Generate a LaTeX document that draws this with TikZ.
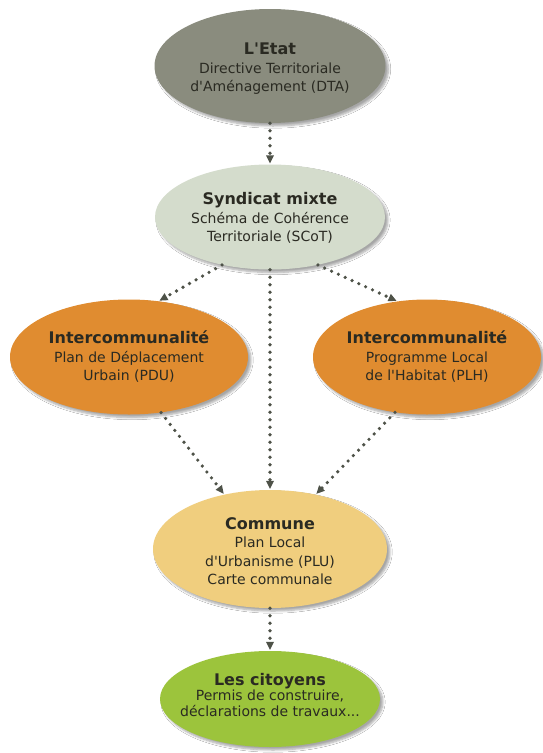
\documentclass[tikz,border=0pt]{standalone}
\usepackage{fontspec}
\setmainfont{DejaVu Sans}
\usetikzlibrary{shapes.geometric,arrows.meta,shadows.blur}
\definecolor{etatc}{HTML}{8A8C7E}
\definecolor{syndc}{HTML}{D4DCCC}
\definecolor{interc}{HTML}{E08C30}
\definecolor{communec}{HTML}{F0CE7E}
\definecolor{citc}{HTML}{9CC43C}
\definecolor{arrc}{HTML}{4E5248}
\definecolor{txtc}{HTML}{2A2A22}
\newcommand{\q}{\textquotesingle}
\newcommand{\ttlfont}{\bfseries\fontsize{16}{19}\selectfont}
\tikzset{
  bubble/.style={ellipse, inner sep=0pt,
    blur shadow={shadow xshift=3pt, shadow yshift=-3pt, shadow blur steps=6, shadow opacity=35}},
  label/.style={align=center, text=txtc, inner sep=0pt, font=\fontsize{14}{18.5}\selectfont},
  flow/.style={draw=arrc, line width=3.6pt, line cap=round, dash pattern=on 0pt off 7.5pt,
    -{Triangle[length=8pt,width=8pt,line width=0pt]}, shorten >=1pt}
}
\begin{document}
\begin{tikzpicture}[x=1pt,y=-1pt]
\useasboundingbox[fill=white] (0,0) rectangle (542,753);
\node[bubble, fill=etatc, minimum width=231pt, minimum height=114pt] (etat) at (270,66) {};
\node[label] (etat-t) at (270,69)
  {{\ttlfont L\q Etat}\\Directive Territoriale\\d\q Aménagement (DTA)};
\node[bubble, fill=syndc, minimum width=230pt, minimum height=105pt] (synd) at (270,217) {};
\node[label] (synd-t) at (270,218)
  {{\ttlfont Syndicat mixte}\\Schéma de Cohérence\\Territoriale (SCoT)};
\node[bubble, fill=interc, minimum width=238pt, minimum height=115pt] (pdu) at (129,357) {};
\node[label] (pdu-t) at (129,357)
  {{\ttlfont Intercommunalité}\\Plan de Déplacement\\Urbain (PDU)};
\node[bubble, fill=interc, minimum width=228pt, minimum height=115pt] (plh) at (427,357) {};
\node[label] (plh-t) at (427,357)
  {{\ttlfont Intercommunalité}\\Programme Local\\de l\q Habitat (PLH)};
\node[bubble, fill=communec, minimum width=234pt, minimum height=118pt] (commune) at (270,549) {};
\node[label] (commune-t) at (270,551)
  {{\ttlfont Commune}\\Plan Local\\d\q Urbanisme (PLU)\\Carte communale};
\node[bubble, fill=citc, minimum width=220pt, minimum height=96pt] (cit) at (270,699) {};
\node[label, font=\fontsize{14}{15.5}\selectfont] (cit-t) at (270,695)
  {{\ttlfont Les citoyens}\\Permis de construire,\\déclarations de travaux...};
\draw[flow] (etat.south) -- (synd.north);
\draw[flow] (synd.225) -- (pdu.62);
\draw[flow] (synd.315) -- (plh.118);
\draw[flow] (synd.south) -- (commune.north);
\draw[flow] (pdu.-60) -- (commune.130);
\draw[flow] (plh.-120) -- (commune.50);
\draw[flow] (commune.south) -- (cit.north);
\end{tikzpicture}
\end{document}
